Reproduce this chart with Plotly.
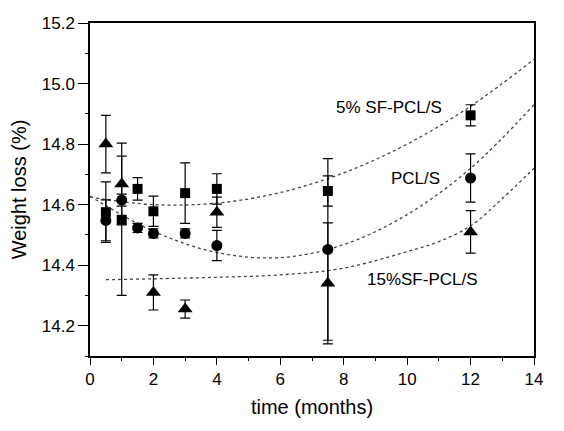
import plotly.graph_objs as go

# time points (months) and weight loss (%) per scaffold
sq_x = [0.5, 1, 1.5, 2, 3, 4, 7.5, 12]
sq_y = [14.575, 14.55, 14.652, 14.578, 14.638, 14.652, 14.645, 14.895]
sq_up = [0.10, 0.21, 0.037, 0.05, 0.10, 0.05, 0.05, 0.035]
sq_dn = [0.10, 0.25, 0.037, 0.05, 0.10, 0.05, 0.05, 0.035]

ci_x = [0.5, 1, 1.5, 2, 3, 4, 7.5, 12]
ci_y = [14.548, 14.615, 14.523, 14.505, 14.505, 14.465, 14.452, 14.688]
ci_err = [0.068, 0.02, 0.015, 0.015, 0.015, 0.05, 0.30, 0.08]

tr_x = [0.5, 1, 2, 3, 4, 7.5, 12]
tr_y = [14.80, 14.668, 14.31, 14.255, 14.575, 14.34, 14.51]
tr_err = [0.095, 0.135, 0.058, 0.03, 0.05, 0.20, 0.07]

# dotted trend curves
fit_sq_x = [0, 2, 4, 6, 8, 10, 12, 14]
fit_sq_y = [14.625, 14.60, 14.605, 14.64, 14.705, 14.80, 14.925, 15.08]
fit_ci_x = [0, 2, 4, 6, 8, 10, 12, 14]
fit_ci_y = [14.628, 14.512, 14.442, 14.425, 14.468, 14.567, 14.72, 14.93]
fit_tr_x = [0.5, 2, 4, 6, 8, 10, 11, 12, 13, 14]
fit_tr_y = [14.352, 14.355, 14.36, 14.368, 14.39, 14.445, 14.478, 14.53, 14.62, 14.72]

labels = ['5% SF-PCL/S', 'PCL/S', '15%SF-PCL/S']
label_x = [9.42, 10.27, 10.49]
label_y = [14.92, 14.686, 14.354]

font = 'Liberation Sans, Arial, sans-serif'
fig = go.Figure()

# trend lines first so the markers sit on top
for fx, fy in [(fit_sq_x, fit_sq_y), (fit_ci_x, fit_ci_y), (fit_tr_x, fit_tr_y)]:
    fig.add_trace(go.Scatter(x=fx, y=fy, mode='lines', line_shape='spline',
                             line=dict(color='#444444', width=1.3, dash='dot'),
                             showlegend=False, hoverinfo='skip'))

def err(up, dn=None):
    d = dict(type='data', array=up, color='black', thickness=1.2, width=5)
    if dn is not None:
        d['symmetric'] = False
        d['arrayminus'] = dn
    return d

fig.add_trace(go.Scatter(x=sq_x, y=sq_y, mode='markers', name='5% SF-PCL/S',
                         marker=dict(symbol='square', size=10, color='black'),
                         error_y=err(sq_up, sq_dn)))
fig.add_trace(go.Scatter(x=ci_x, y=ci_y, mode='markers', name='PCL/S',
                         marker=dict(symbol='circle', size=11, color='black'),
                         error_y=err(ci_err)))
fig.add_trace(go.Scatter(x=tr_x, y=tr_y, mode='markers', name='15%SF-PCL/S',
                         marker=dict(symbol='triangle-up', size=13, color='black'),
                         error_y=err(tr_err)))

for t, lx, ly in zip(labels, label_x, label_y):
    fig.add_annotation(x=lx, y=ly, text=t, showarrow=False,
                       font=dict(size=17, color='black', family=font))

# page body adds an 8px offset, so the figure is 8px smaller than the window
fig.update_layout(
    width=556, height=423,
    margin=dict(l=82, r=30, t=6, b=75),
    plot_bgcolor='white', paper_bgcolor='white',
    showlegend=False,
    font=dict(family=font, size=17, color='black'),
    xaxis=dict(title=dict(text='time (months)', font=dict(size=20), standoff=12),
               range=[0, 14], dtick=2, tick0=0,
               showgrid=False, zeroline=False,
               showline=True, linecolor='black', linewidth=1.5, mirror=True,
               ticks='outside', ticklen=7, tickwidth=1.2, tickcolor='black',
               minor=dict(dtick=1, ticks='outside', ticklen=3, tickcolor='black')),
    yaxis=dict(title=dict(text='Weight loss (%)', font=dict(size=20), standoff=10),
               range=[14.1, 15.2], dtick=0.2, tick0=14.2, tickformat='.1f',
               ticklabeloverflow='allow',
               showgrid=False, zeroline=False,
               showline=True, linecolor='black', linewidth=1.5, mirror=True,
               ticks='outside', ticklen=10, tickwidth=1.2, tickcolor='black',
               minor=dict(dtick=0.1, ticks='outside', ticklen=3, tickcolor='black')),
)

fig.write_html('out.html')
